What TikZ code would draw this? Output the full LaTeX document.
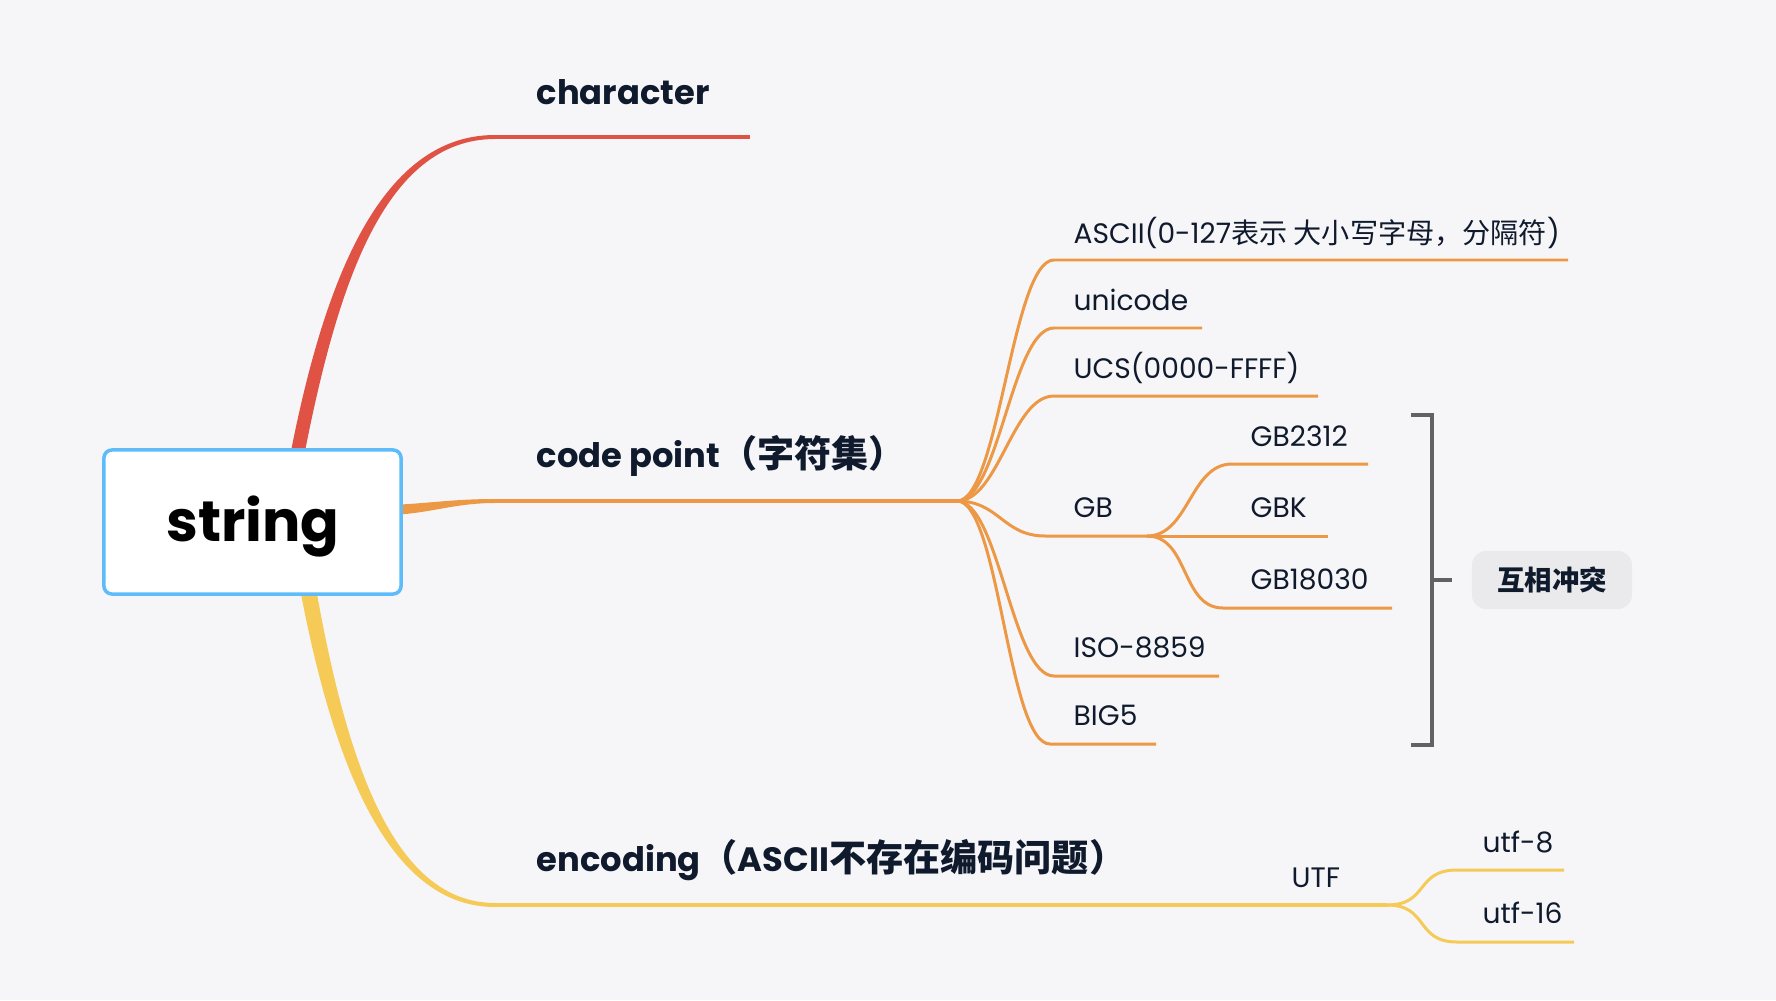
\documentclass[tikz,border=0pt]{standalone}
\usepackage{fontspec}
\setmainfont{Poppins}
\newfontfamily\cjk{Noto Sans CJK SC}
\newfontfamily\cjktitle[Scale=1.1]{Noto Sans CJK SC}
\usepackage{tikz}
\usetikzlibrary{calc}

\definecolor{cBg}{RGB}{246,246,249}
\definecolor{cInk}{RGB}{16,26,45}
\definecolor{cBlue}{RGB}{94,188,250}
\definecolor{cRed}{RGB}{224,82,67}
\definecolor{cOrange}{RGB}{236,152,68}
\definecolor{cYellow}{RGB}{245,202,87}
\definecolor{cGrey}{RGB}{98,98,98}
\definecolor{cTag}{RGB}{234,234,236}

\begin{document}
\begin{tikzpicture}[
    x=0.01cm, y=-0.01cm,
    % Define styles for the topics and the leaves
    root/.style={draw=cBlue, line width=1pt, fill=white, rounded corners=2.3pt,
        minimum width=2.97cm, minimum height=1.44cm, inner sep=0pt},
    root_text/.style={inner sep=0pt, text=black, font=\fontsize{16.2}{19}\selectfont\bfseries},
    topic/.style={anchor=base west, inner sep=0pt, text=cInk,
        font=\fontsize{9.6}{11}\selectfont\bfseries},
    leaf/.style={anchor=base west, inner sep=0pt, text=cInk,
        font=\fontsize{8}{10}\selectfont},
    tag/.style={fill=cTag, rounded corners=4pt, minimum width=1.6cm,
        minimum height=0.58cm, inner sep=0pt, text=cInk,
        font=\fontsize{7.8}{9}\selectfont\cjk\bfseries},
    % Define styles for the branches
    main_line/.style={line width=1.1pt},
    twig/.style={line width=0.85pt},
    fan/.style={out=0, in=180, distance=0.42cm},
    bracket_line/.style={cGrey, line width=1pt}
]

% --- 1. Canvas ---
\fill[cBg] (0,0) rectangle (1776,1000);

% --- 2. Main branches out of the root ---

% Coordinates where the branches leave the root and reach the topics
\coordinate (rt) at (298,451);
\coordinate (rr) at (392,510);
\coordinate (rb) at (309,594);
\coordinate (char_s) at (495,137);
\coordinate (char_e) at (750,137);
\coordinate (cp_s) at (495,501);
\coordinate (cp_hub) at (957,501);
\coordinate (enc_s) at (495,905);
\coordinate (enc_hub) at (1387,905);

% Red branch (tapered)
\fill[cRed] ($(rt)+(-7,0)$) .. controls ($(rt)+(25,-161)$) and ($(char_s)+(-118,-2)$) .. ($(char_s)+(0,-2)$)
    -- ($(char_s)+(0,2)$) .. controls ($(char_s)+(-112,2)$) and ($(rt)+(39,-161)$) .. ($(rt)+(7,0)$) -- cycle;
\draw[cRed, main_line] (char_s) -- (char_e);

% Orange branch (tapered)
\fill[cOrange] ($(rr)+(0,-5)$) .. controls ($(rr)+(40,-7)$) and ($(cp_s)+(-40,-2)$) .. ($(cp_s)+(0,-2)$)
    -- ($(cp_s)+(0,2)$) .. controls ($(cp_s)+(-40,2)$) and ($(rr)+(40,3)$) .. ($(rr)+(0,5)$) -- cycle;
\draw[cOrange, main_line] (cp_s) -- (cp_hub);

% Yellow branch (tapered)
\fill[cYellow] ($(rb)+(-8,0)$) .. controls ($(rb)+(24,166)$) and ($(enc_s)+(-108,2)$) .. ($(enc_s)+(0,2)$)
    -- ($(enc_s)+(0,-2)$) .. controls ($(enc_s)+(-102,-2)$) and ($(rb)+(38,166)$) .. ($(rb)+(8,0)$) -- cycle;
\draw[cYellow, main_line] (enc_s) -- (enc_hub);

% Root
\node[root] (root) at (252.5,522) {};
\node[root_text] (root_txt) at (253,527) {string};

% Topics
\node[topic] (char) at (536,104) {character};
\node[topic] (cp) at (536,467) {code point{\cjktitle （字符集）}};
\node[topic] (enc) at (536,871) {encoding{\cjktitle （}ASCII{\cjktitle 不存在编码问题）}};

% --- 3. Code point leaves ---
\coordinate (ascii_s) at (1054,260);   \coordinate (ascii_e) at (1568,260);
\coordinate (uni_s) at (1054,328);     \coordinate (uni_e) at (1202,328);
\coordinate (ucs_s) at (1054,396);     \coordinate (ucs_e) at (1318,396);
\coordinate (gb_s) at (1045,536);      \coordinate (gb_hub) at (1147,536);
\coordinate (iso_s) at (1054,676);     \coordinate (iso_e) at (1219,676);
\coordinate (big_s) at (1050,744);     \coordinate (big_e) at (1156,744);

\draw[cOrange, twig] (cp_hub) to[fan] (ascii_s) -- (ascii_e);
\draw[cOrange, twig] (cp_hub) to[fan] (uni_s) -- (uni_e);
\draw[cOrange, twig] (cp_hub) to[fan] (ucs_s) -- (ucs_e);
\draw[cOrange, twig] (cp_hub) to[fan] (gb_s) -- (gb_hub);
\draw[cOrange, twig] (cp_hub) to[fan] (iso_s) -- (iso_e);
\draw[cOrange, twig] (cp_hub) to[fan] (big_s) -- (big_e);

\node[leaf] (ascii) at (1073,243) {ASCII(0-127{\cjk 表示 大小写字母，分隔符})};
\node[leaf] (unicode) at (1073,310) {unicode};
\node[leaf] (ucs) at (1073,378) {UCS(0000-FFFF)};
\node[leaf] (gb) at (1073,517) {GB};
\node[leaf] (iso) at (1073,657) {ISO-8859};
\node[leaf] (big5) at (1073,725) {BIG5};

% GB family
\coordinate (gb2312_s) at (1232,464);  \coordinate (gb2312_e) at (1368,464);
\coordinate (gbk_e) at (1328,536);
\coordinate (gb18030_s) at (1223,608); \coordinate (gb18030_e) at (1392,608);

\draw[cOrange, twig] (gb_hub) to[fan] (gb2312_s) -- (gb2312_e);
\draw[cOrange, twig] (gb_hub) -- (gbk_e);
\draw[cOrange, twig] (gb_hub) to[fan] (gb18030_s) -- (gb18030_e);

\node[leaf] (gb2312) at (1250,446) {GB2312};
\node[leaf] (gbk) at (1250,517) {GBK};
\node[leaf] (gb18030) at (1250,589) {GB18030};

% Bracket and its tag
\node[tag] (clash) at (1552,580) {互相冲突};
\coordinate (brk_mid) at (1432,580);
\draw[bracket_line] (1411,415) -- (1432,415) -- (1432,745) -- (1411,745);
\draw[bracket_line] (brk_mid) -- ($(clash.west)+(-19,0)$);

% --- 4. Encoding leaves ---
\coordinate (utf8_s) at (1457,870);   \coordinate (utf8_e) at (1564,870);
\coordinate (utf16_s) at (1457,942);  \coordinate (utf16_e) at (1574,942);

\draw[cYellow, twig] (enc_hub) to[fan] (utf8_s) -- (utf8_e);
\draw[cYellow, twig] (enc_hub) to[fan] (utf16_s) -- (utf16_e);

\node[leaf] (utf) at (1291,887) {UTF};
\node[leaf] (utf8) at (1482,852) {utf-8};
\node[leaf] (utf16) at (1482,923) {utf-16};

\end{tikzpicture}
\end{document}
